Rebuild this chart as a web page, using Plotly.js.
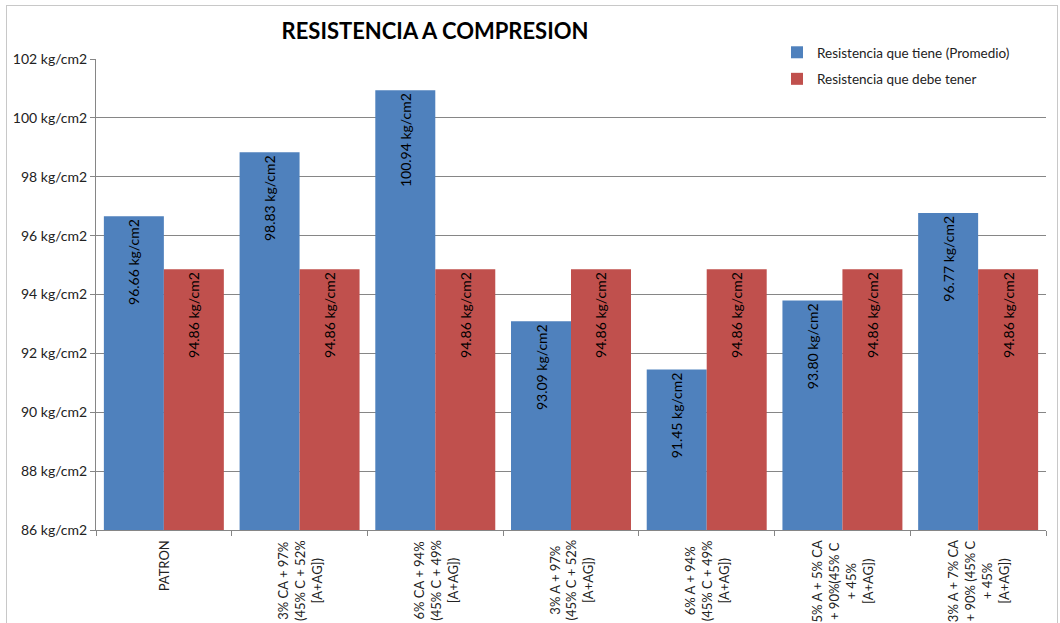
<!DOCTYPE html>
<html>
<head>
<meta charset="utf-8">
<script src="https://cdn.plot.ly/plotly-3.0.1.min.js"></script>
<style>
  html, body { margin: 0; padding: 0; background: #fff; }
  #wrap { position: relative; width: 1060px; height: 623px; }
  #frame { position: absolute; left: 6px; top: 5px; width: 1052px; height: 640px;
           border: 1px solid #c8c8c8; box-sizing: border-box; pointer-events: none; }
  #chart { position: absolute; left: 0; top: 0; width: 1060px; height: 623px; }
</style>
</head>
<body>
<div id="wrap">
  <div id="frame"></div>
  <div id="chart"></div>
</div>
<script>
// Mix designs tested
const categories = [
  "PATRON",
  "3% CA + 97%<br>(45% C + 52%<br>[A+AG])",
  "6% CA + 94%<br>(45% C + 49%<br>[A+AG])",
  "3% A + 97%<br>(45% C + 52%<br>[A+AG])",
  "6% A + 94%<br>(45% C + 49%<br>[A+AG])",
  "5% A + 5% CA<br>+ 90%(45% C<br>+ 45%<br>[A+AG])",
  "3% A + 7% CA<br>+ 90% (45% C<br>+ 45%<br>[A+AG])"
];
const categoryIds = ["c1", "c2", "c3", "c4", "c5", "c6", "c7"];

// Compressive strength, kg/cm2
const measured = [96.66, 98.83, 100.94, 93.09, 91.45, 93.80, 96.77];
const required = [94.86, 94.86, 94.86, 94.86, 94.86, 94.86, 94.86];

const seriesNames = ["Resistencia que tiene (Promedio)", "Resistencia que debe tener"];
const yTicks = [86, 88, 90, 92, 94, 96, 98, 100, 102];
const yTickLabels = yTicks.map(v => v + " kg/cm2");

const FONT = "Lato, 'Open Sans', sans-serif";
const pad = "\u00a0\u00a0";

function barTrace(values, name, color, group) {
  return {
    type: "bar",
    x: categoryIds,
    y: values,
    name: name,
    legendgroup: group,
    marker: { color: color, line: { width: 0 } },
    text: values.map(v => pad + v.toFixed(2) + " kg/cm2"),
    textposition: "inside",
    insidetextanchor: "end",
    textangle: -90,
    textfont: { family: FONT, size: 14, color: "#000" },
    constraintext: "none",
    cliponaxis: true,
    hoverinfo: "x+y+name"
  };
}

const data = [
  barTrace(measured, seriesNames[0], "#4F81BD", "g1"),
  barTrace(required, seriesNames[1], "#C0504D", "g2")
];

// Category labels, rotated and centred line by line
const labelAnnotations = categoryIds.map((id, i) => ({
  x: id, xref: "x",
  y: 0, yref: "paper",
  yshift: -8,
  text: categories[i],
  showarrow: false,
  textangle: -90,
  align: "center",
  xanchor: "center",
  yanchor: "top",
  font: { family: FONT, size: 13, color: "#222" }
}));

const layout = {
  width: 1060,
  height: 623,
  margin: { l: 96, r: 14, t: 59, b: 93 },
  paper_bgcolor: "rgba(0,0,0,0)",
  plot_bgcolor: "rgba(0,0,0,0)",
  barmode: "group",
  bargap: 0.116,
  bargroupgap: 0,
  font: { family: FONT, color: "#222" },
  title: {
    text: "<b>RESISTENCIA A COMPRESION</b>",
    font: { family: FONT, size: 22, color: "#000" },
    xref: "container", x: 435 / 1060, xanchor: "center",
    yref: "container", y: 1 - 31 / 623, yanchor: "middle"
  },
  xaxis: {
    type: "category",
    showticklabels: false,
    showline: true,
    linecolor: "#868686",
    linewidth: 1,
    ticks: "outside",
    tickson: "boundaries",
    ticklen: 5,
    tickcolor: "#868686",
    showgrid: false,
    zeroline: false
  },
  yaxis: {
    range: [86, 102],
    tickvals: yTicks,
    ticktext: yTickLabels,
    showline: true,
    linecolor: "#868686",
    linewidth: 1,
    ticks: "outside",
    ticklen: 5,
    tickcolor: "#868686",
    showgrid: true,
    gridcolor: "#868686",
    gridwidth: 1,
    zeroline: false,
    tickfont: { family: FONT, size: 14, color: "#222" }
  },
  showlegend: true,
  legend: {
    x: (777 - 96) / 950,
    y: (530 - 37) / 471,
    xanchor: "left",
    yanchor: "top",
    bgcolor: "rgba(0,0,0,0)",
    borderwidth: 0,
    traceorder: "grouped",
    tracegroupgap: 6,
    font: { family: FONT, size: 13.5, color: "#222" },
    itemwidth: 30
  },
  annotations: labelAnnotations
};

Plotly.newPlot("chart", data, layout, { displayModeBar: false, staticPlot: true });
</script>
</body>
</html>
